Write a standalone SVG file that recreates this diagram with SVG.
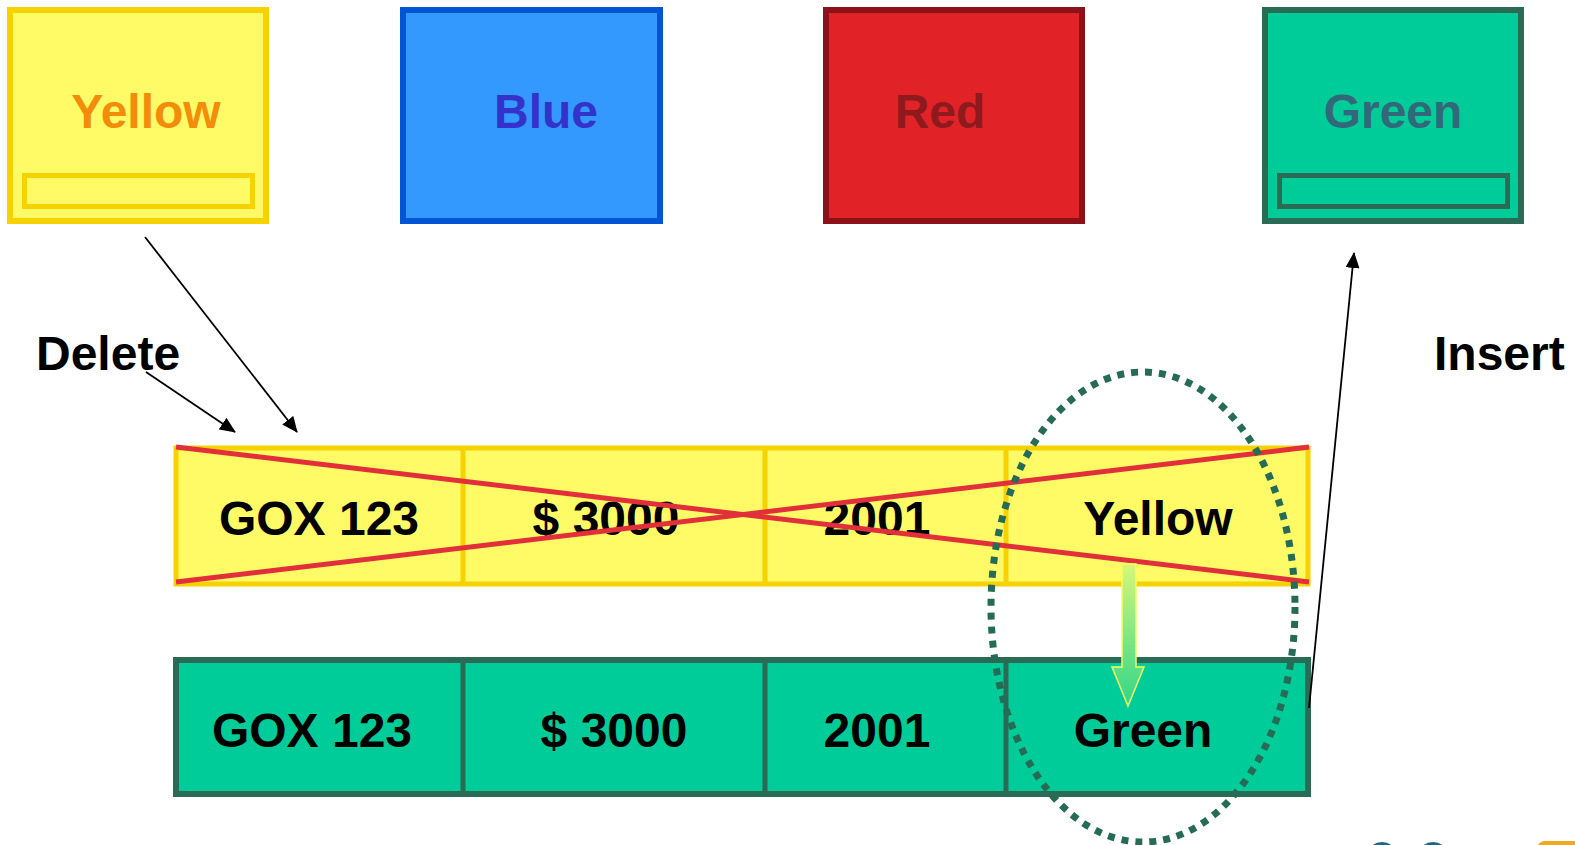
<svg xmlns="http://www.w3.org/2000/svg" width="1575" height="845" viewBox="0 0 1575 845">
  <style>
    text { font-family: "Liberation Sans", Arial, sans-serif; font-weight: bold; text-anchor: middle; }
    .swatch { font-size: 48px; }
    .cell { font-size: 48px; fill: #000; }
    .label { font-size: 48px; fill: #000; text-anchor: start; }
    .conn { stroke: #000; stroke-width: 1.8; fill: none; }
  </style>
  <defs>
    <marker id="arrow" markerWidth="16" markerHeight="14" refX="15" refY="7" orient="auto" markerUnits="userSpaceOnUse">
      <path d="M0,0 L16,7 L0,14 Z" fill="#000"/>
    </marker>
    <linearGradient id="dropFill" x1="0" y1="0" x2="0" y2="1">
      <stop offset="0" stop-color="#D8F77A"/>
      <stop offset="1" stop-color="#2FD68A"/>
    </linearGradient>
  </defs>

  <!-- colour swatches -->
  <g id="swatch-yellow">
    <rect x="10" y="10" width="256" height="211" fill="#FFFB66" stroke="#F6D200" stroke-width="6"/>
    <rect x="24.5" y="175.5" width="228" height="31" fill="#FFFB66" stroke="#F6D200" stroke-width="5"/>
    <text class="swatch" x="146" y="128" fill="#F28C0A">Yellow</text>
  </g>
  <g id="swatch-blue">
    <rect x="403" y="10" width="257" height="211" fill="#3399FF" stroke="#0055D4" stroke-width="6"/>
    <text class="swatch" x="546" y="128" fill="#3333CC">Blue</text>
  </g>
  <g id="swatch-red">
    <rect x="826" y="10" width="256" height="211" fill="#E12328" stroke="#8B1218" stroke-width="6"/>
    <text class="swatch" x="940" y="128" fill="#8F1A1D">Red</text>
  </g>
  <g id="swatch-green">
    <rect x="1265" y="10" width="256" height="211" fill="#00CC99" stroke="#2A6B55" stroke-width="6"/>
    <rect x="1279.5" y="175.5" width="228" height="31" fill="#00CC99" stroke="#2A6B55" stroke-width="5"/>
    <text class="swatch" x="1393" y="128" fill="#31697A">Green</text>
  </g>

  <!-- labels -->
  <g id="label-delete"><text class="label" x="36" y="370">Delete</text></g>
  <g id="label-insert"><text class="label" x="1434" y="370">Insert</text></g>

  <!-- deleted row -->
  <g id="row-old">
    <rect x="176" y="448" width="1132" height="136" fill="#FFFB66" stroke="#F6D200" stroke-width="5"/>
    <line x1="463" y1="448" x2="463" y2="584" stroke="#F6D200" stroke-width="5"/>
    <line x1="765" y1="448" x2="765" y2="584" stroke="#F6D200" stroke-width="5"/>
    <line x1="1006" y1="448" x2="1006" y2="584" stroke="#F6D200" stroke-width="5"/>
    <text class="cell" x="319" y="535">GOX 123</text>
    <text class="cell" x="606" y="535">$ 3000</text>
    <text class="cell" x="877" y="535">2001</text>
    <text class="cell" x="1158" y="535">Yellow</text>
    <line x1="176" y1="447" x2="1309" y2="582" stroke="#E2303A" stroke-width="5"/>
    <line x1="176" y1="582" x2="1309" y2="447" stroke="#E2303A" stroke-width="5"/>
  </g>

  <!-- inserted row -->
  <g id="row-new">
    <rect x="176" y="660" width="1132" height="134" fill="#00CC99" stroke="#2A6B55" stroke-width="6"/>
    <line x1="463" y1="660" x2="463" y2="794" stroke="#2A6B55" stroke-width="5"/>
    <line x1="765" y1="660" x2="765" y2="794" stroke="#2A6B55" stroke-width="5"/>
    <line x1="1006" y1="660" x2="1006" y2="794" stroke="#2A6B55" stroke-width="5"/>
    <text class="cell" x="312" y="747">GOX 123</text>
    <text class="cell" x="614" y="747">$ 3000</text>
    <text class="cell" x="877" y="747">2001</text>
    <text class="cell" x="1143" y="747">Green</text>
  </g>

  <!-- changed cell highlight and colour drop -->
  <g id="highlight">
    <path d="M1122,564 L1136,564 L1136,667 L1144,667 L1128,706 L1112,667 L1122,667 Z" fill="url(#dropFill)" stroke="#F5FF60" stroke-width="1.5"/>
    <ellipse cx="1143" cy="607" rx="152" ry="235" fill="none" stroke="#266B55" stroke-width="7" stroke-dasharray="7 7"/>
  </g>

  <!-- connectors -->
  <g id="connectors">
    <line class="conn" x1="145" y1="237" x2="297" y2="432" marker-end="url(#arrow)"/>
    <line class="conn" x1="146" y1="372" x2="235" y2="432" marker-end="url(#arrow)"/>
    <line class="conn" x1="1309" y1="708" x2="1354" y2="253" marker-end="url(#arrow)"/>
  </g>

  <!-- logo fragments at the lower edge -->
  <g id="logo">
    <circle cx="1382" cy="858" r="16" fill="#1F6680"/>
    <circle cx="1433" cy="858" r="16" fill="#1F6680"/>
    <rect x="1537" y="841" width="50" height="20" rx="8" fill="#F2A81D"/>
  </g>
</svg>
